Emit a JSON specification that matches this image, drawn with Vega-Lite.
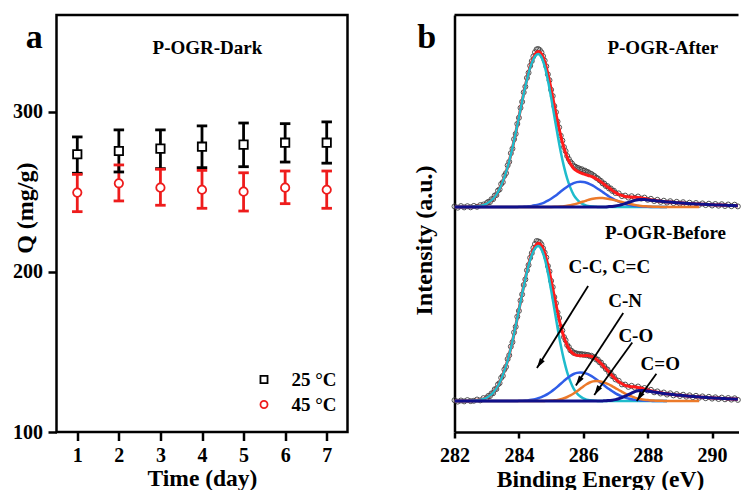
{
"$schema":"https://vega.github.io/schema/vega-lite/v6.json",
"background":"white",
"padding":{"left":10.5,"top":13,"right":0,"bottom":0},
"bounds":"flush",
"spacing":107,
"config":{
 "font":"Liberation Serif",
 "view":{"stroke":null},
 "axis":{"labelFont":"Liberation Serif","labelFontWeight":"bold","labelFontSize":20,"labelColor":"black","titleFont":"Liberation Serif","titleFontWeight":"bold","titleFontSize":24,"titleColor":"black","tickColor":"black","tickWidth":2.5,"domainColor":"black","domainWidth":2.5,"grid":false,"labelFlush":false},
 "text":{"font":"Liberation Serif","fontWeight":"bold","color":"black"}
},
"datasets":{
 "q":[
  {"day":1,"T":"45 °C","Q":249.6,"lo":237.7,"hi":261.0},
  {"day":2,"T":"45 °C","Q":255.4,"lo":244.4,"hi":266.9},
  {"day":3,"T":"45 °C","Q":252.7,"lo":241.7,"hi":264.2},
  {"day":4,"T":"45 °C","Q":251.4,"lo":239.8,"hi":263.5},
  {"day":5,"T":"45 °C","Q":250.2,"lo":238.1,"hi":262.0},
  {"day":6,"T":"45 °C","Q":252.7,"lo":242.7,"hi":263.1},
  {"day":7,"T":"45 °C","Q":251.4,"lo":239.8,"hi":263.1},
  {"day":1,"T":"25 °C","Q":273.6,"lo":261.7,"hi":284.4},
  {"day":2,"T":"25 °C","Q":275.6,"lo":262.5,"hi":288.8},
  {"day":3,"T":"25 °C","Q":277.1,"lo":264.6,"hi":288.8},
  {"day":4,"T":"25 °C","Q":278.3,"lo":265.2,"hi":291.3},
  {"day":5,"T":"25 °C","Q":279.6,"lo":265.8,"hi":293.1},
  {"day":6,"T":"25 °C","Q":280.8,"lo":268.7,"hi":292.7},
  {"day":7,"T":"25 °C","Q":280.8,"lo":268.0,"hi":293.8}
 ],
 "fit":[
  {"s":"A","E":282.0,"fit":225,"cc":225,"cn":225,"co":225,"coo":225},
  {"s":"A","E":282.1,"fit":225,"cc":225,"cn":225,"co":225,"coo":225},
  {"s":"A","E":282.2,"fit":225,"cc":225,"cn":225,"co":225,"coo":225},
  {"s":"A","E":282.3,"fit":225.1,"cc":225.1,"cn":225,"co":225,"coo":225},
  {"s":"A","E":282.4,"fit":225.1,"cc":225.1,"cn":225,"co":225,"coo":225},
  {"s":"A","E":282.5,"fit":225.2,"cc":225.2,"cn":225,"co":225,"coo":225},
  {"s":"A","E":282.6,"fit":225.4,"cc":225.4,"cn":225,"co":225,"coo":225},
  {"s":"A","E":282.7,"fit":225.7,"cc":225.7,"cn":225,"co":225,"coo":225},
  {"s":"A","E":282.8,"fit":226.2,"cc":226.2,"cn":225,"co":225,"coo":225},
  {"s":"A","E":282.9,"fit":227.1,"cc":227.1,"cn":225,"co":225,"coo":225},
  {"s":"A","E":283.0,"fit":228.4,"cc":228.4,"cn":225,"co":225,"coo":225},
  {"s":"A","E":283.1,"fit":230.4,"cc":230.4,"cn":225,"co":225,"coo":225},
  {"s":"A","E":283.2,"fit":233.3,"cc":233.3,"cn":225,"co":225,"coo":225},
  {"s":"A","E":283.3,"fit":237.4,"cc":237.4,"cn":225,"co":225,"coo":225},
  {"s":"A","E":283.4,"fit":243.1,"cc":243.1,"cn":225,"co":225,"coo":225},
  {"s":"A","E":283.5,"fit":250.4,"cc":250.4,"cn":225,"co":225,"coo":225},
  {"s":"A","E":283.6,"fit":259.6,"cc":259.6,"cn":225,"co":225,"coo":225},
  {"s":"A","E":283.7,"fit":270.9,"cc":270.9,"cn":225,"co":225,"coo":225},
  {"s":"A","E":283.8,"fit":284.1,"cc":284.1,"cn":225,"co":225,"coo":225},
  {"s":"A","E":283.9,"fit":298.9,"cc":298.9,"cn":225,"co":225,"coo":225},
  {"s":"A","E":284.0,"fit":314.9,"cc":314.7,"cn":225.2,"co":225,"coo":225},
  {"s":"A","E":284.1,"fit":330.9,"cc":330.6,"cn":225.3,"co":225,"coo":225},
  {"s":"A","E":284.2,"fit":346.1,"cc":345.6,"cn":225.5,"co":225,"coo":225},
  {"s":"A","E":284.3,"fit":359.6,"cc":358.9,"cn":225.7,"co":225,"coo":225},
  {"s":"A","E":284.4,"fit":370.2,"cc":369.1,"cn":226.1,"co":225,"coo":225},
  {"s":"A","E":284.5,"fit":377.4,"cc":375.7,"cn":226.7,"co":225,"coo":225},
  {"s":"A","E":284.6,"fit":380.4,"cc":378.0,"cn":227.4,"co":225,"coo":225},
  {"s":"A","E":284.7,"fit":378.2,"cc":374.8,"cn":228.4,"co":225,"coo":225},
  {"s":"A","E":284.8,"fit":370.5,"cc":365.8,"cn":229.7,"co":225,"coo":225},
  {"s":"A","E":284.9,"fit":358.1,"cc":351.8,"cn":231.3,"co":225,"coo":225},
  {"s":"A","E":285.0,"fit":343.0,"cc":334.7,"cn":233.2,"co":225.1,"coo":225},
  {"s":"A","E":285.1,"fit":326.5,"cc":315.9,"cn":235.4,"co":225.2,"coo":225},
  {"s":"A","E":285.2,"fit":310.5,"cc":297.4,"cn":237.8,"co":225.3,"coo":225},
  {"s":"A","E":285.3,"fit":296.0,"cc":280.1,"cn":240.4,"co":225.5,"coo":225},
  {"s":"A","E":285.4,"fit":284.1,"cc":265.4,"cn":242.9,"co":225.8,"coo":225},
  {"s":"A","E":285.5,"fit":274.8,"cc":253.3,"cn":245.3,"co":226.2,"coo":225},
  {"s":"A","E":285.6,"fit":268.2,"cc":244.1,"cn":247.3,"co":226.8,"coo":225},
  {"s":"A","E":285.7,"fit":263.6,"cc":237.2,"cn":248.9,"co":227.5,"coo":225},
  {"s":"A","E":285.8,"fit":261.0,"cc":232.7,"cn":249.9,"co":228.4,"coo":225},
  {"s":"A","E":285.9,"fit":259.3,"cc":229.6,"cn":250.3,"co":229.4,"coo":225},
  {"s":"A","E":286.0,"fit":258.1,"cc":227.6,"cn":250.0,"co":230.5,"coo":225},
  {"s":"A","E":286.1,"fit":257.1,"cc":226.4,"cn":249.2,"co":231.5,"coo":225},
  {"s":"A","E":286.2,"fit":256.1,"cc":225.7,"cn":247.9,"co":232.5,"coo":225},
  {"s":"A","E":286.3,"fit":255.0,"cc":225.4,"cn":246.3,"co":233.3,"coo":225},
  {"s":"A","E":286.4,"fit":253.3,"cc":225.2,"cn":244.3,"co":233.8,"coo":225},
  {"s":"A","E":286.5,"fit":251.2,"cc":225,"cn":242.2,"co":234.0,"coo":225},
  {"s":"A","E":286.6,"fit":248.9,"cc":225,"cn":239.9,"co":233.9,"coo":225.1},
  {"s":"A","E":286.7,"fit":246.4,"cc":225,"cn":237.7,"co":233.6,"coo":225.1},
  {"s":"A","E":286.8,"fit":244.0,"cc":225,"cn":235.5,"co":233.1,"coo":225.4},
  {"s":"A","E":286.9,"fit":241.6,"cc":225,"cn":233.6,"co":232.4,"coo":225.6},
  {"s":"A","E":287.0,"fit":239.4,"cc":225,"cn":231.8,"co":231.6,"coo":226.0},
  {"s":"A","E":287.1,"fit":237.7,"cc":225,"cn":230.3,"co":230.8,"coo":226.6},
  {"s":"A","E":287.2,"fit":236.5,"cc":225,"cn":229.1,"co":230.0,"coo":227.4},
  {"s":"A","E":287.3,"fit":235.5,"cc":225,"cn":228.0,"co":229.1,"coo":228.4},
  {"s":"A","E":287.4,"fit":235.1,"cc":225,"cn":227.2,"co":228.3,"coo":229.6},
  {"s":"A","E":287.5,"fit":234.9,"cc":225,"cn":226.6,"co":227.7,"coo":230.6},
  {"s":"A","E":287.6,"fit":234.8,"cc":225,"cn":226.1,"co":227.1,"coo":231.6},
  {"s":"A","E":287.7,"fit":234.6,"cc":225,"cn":225.8,"co":226.5,"coo":232.3},
  {"s":"A","E":287.8,"fit":234.1,"cc":225,"cn":225.5,"co":226.1,"coo":232.5},
  {"s":"A","E":287.9,"fit":233.5,"cc":225,"cn":225.3,"co":225.8,"coo":232.4},
  {"s":"A","E":288.0,"fit":232.9,"cc":225,"cn":225.2,"co":225.6,"coo":232.1},
  {"s":"A","E":288.1,"fit":232.3,"cc":225,"cn":225.1,"co":225.4,"coo":231.8},
  {"s":"A","E":288.2,"fit":231.7,"cc":225,"cn":225,"co":225.3,"coo":231.4},
  {"s":"A","E":288.3,"fit":231.3,"cc":225,"cn":225,"co":225.2,"coo":231.1},
  {"s":"A","E":288.4,"fit":230.8,"cc":225,"cn":225,"co":225.1,"coo":230.7},
  {"s":"A","E":288.5,"fit":230.4,"cc":225,"cn":225,"co":225,"coo":230.4},
  {"s":"A","E":288.6,"fit":230.1,"cc":225,"cn":225,"co":225,"coo":230.1},
  {"s":"A","E":288.7,"fit":229.9,"co":225,"coo":229.9},
  {"s":"A","E":288.8,"fit":229.6,"co":225,"coo":229.6},
  {"s":"A","E":288.9,"fit":229.3,"co":225,"coo":229.3},
  {"s":"A","E":289.0,"fit":229.1,"co":225,"coo":229.1},
  {"s":"A","E":289.1,"fit":228.9,"co":225,"coo":228.9},
  {"s":"A","E":289.2,"fit":228.6,"co":225,"coo":228.6},
  {"s":"A","E":289.3,"fit":228.4,"co":225,"coo":228.4},
  {"s":"A","E":289.4,"fit":228.2,"co":225,"coo":228.2},
  {"s":"A","E":289.5,"fit":228.1,"co":225,"coo":228.1},
  {"s":"A","E":289.6,"fit":227.9,"co":225,"coo":227.9},
  {"s":"A","E":289.7,"fit":227.7,"coo":227.7},
  {"s":"A","E":289.8,"fit":227.6,"coo":227.6},
  {"s":"A","E":289.9,"fit":227.4,"coo":227.4},
  {"s":"A","E":290.0,"fit":227.2,"coo":227.2},
  {"s":"A","E":290.1,"fit":227.1,"coo":227.1},
  {"s":"A","E":290.2,"fit":227.0,"coo":227.0},
  {"s":"A","E":290.3,"fit":226.9,"coo":226.9},
  {"s":"A","E":290.4,"fit":226.7,"coo":226.7},
  {"s":"A","E":290.5,"fit":226.6,"coo":226.6},
  {"s":"A","E":290.6,"fit":226.5,"coo":226.5},
  {"s":"A","E":290.7,"fit":226.4,"coo":226.4},
  {"s":"A","E":290.8,"fit":226.3,"coo":226.3},
  {"s":"B","E":282.0,"fit":31,"cc":31,"cn":31,"co":31,"coo":31},
  {"s":"B","E":282.1,"fit":31,"cc":31,"cn":31,"co":31,"coo":31},
  {"s":"B","E":282.2,"fit":31,"cc":31,"cn":31,"co":31,"coo":31},
  {"s":"B","E":282.3,"fit":31.1,"cc":31.1,"cn":31,"co":31,"coo":31},
  {"s":"B","E":282.4,"fit":31.1,"cc":31.1,"cn":31,"co":31,"coo":31},
  {"s":"B","E":282.5,"fit":31.2,"cc":31.2,"cn":31,"co":31,"coo":31},
  {"s":"B","E":282.6,"fit":31.4,"cc":31.4,"cn":31,"co":31,"coo":31},
  {"s":"B","E":282.7,"fit":31.7,"cc":31.7,"cn":31,"co":31,"coo":31},
  {"s":"B","E":282.8,"fit":32.3,"cc":32.3,"cn":31,"co":31,"coo":31},
  {"s":"B","E":282.9,"fit":33.1,"cc":33.1,"cn":31,"co":31,"coo":31},
  {"s":"B","E":283.0,"fit":34.4,"cc":34.4,"cn":31,"co":31,"coo":31},
  {"s":"B","E":283.1,"fit":36.4,"cc":36.4,"cn":31,"co":31,"coo":31},
  {"s":"B","E":283.2,"fit":39.4,"cc":39.4,"cn":31,"co":31,"coo":31},
  {"s":"B","E":283.3,"fit":43.6,"cc":43.6,"cn":31,"co":31,"coo":31},
  {"s":"B","E":283.4,"fit":49.3,"cc":49.3,"cn":31,"co":31,"coo":31},
  {"s":"B","E":283.5,"fit":56.7,"cc":56.7,"cn":31,"co":31,"coo":31},
  {"s":"B","E":283.6,"fit":66.0,"cc":66.0,"cn":31,"co":31,"coo":31},
  {"s":"B","E":283.7,"fit":77.5,"cc":77.5,"cn":31,"co":31,"coo":31},
  {"s":"B","E":283.8,"fit":90.8,"cc":90.8,"cn":31,"co":31,"coo":31},
  {"s":"B","E":283.9,"fit":105.9,"cc":105.9,"cn":31,"co":31,"coo":31},
  {"s":"B","E":284.0,"fit":122.0,"cc":121.8,"cn":31.2,"co":31,"coo":31},
  {"s":"B","E":284.1,"fit":138.3,"cc":138.0,"cn":31.3,"co":31,"coo":31},
  {"s":"B","E":284.2,"fit":153.6,"cc":153.1,"cn":31.5,"co":31,"coo":31},
  {"s":"B","E":284.3,"fit":167.4,"cc":166.6,"cn":31.8,"co":31,"coo":31},
  {"s":"B","E":284.4,"fit":178.3,"cc":177.0,"cn":32.3,"co":31,"coo":31},
  {"s":"B","E":284.5,"fit":185.6,"cc":183.7,"cn":32.9,"co":31,"coo":31},
  {"s":"B","E":284.6,"fit":188.7,"cc":186.0,"cn":33.7,"co":31,"coo":31},
  {"s":"B","E":284.7,"fit":186.5,"cc":182.7,"cn":34.8,"co":31,"coo":31},
  {"s":"B","E":284.8,"fit":179.0,"cc":173.6,"cn":36.3,"co":31.1,"coo":31},
  {"s":"B","E":284.9,"fit":166.8,"cc":159.5,"cn":38.1,"co":31.2,"coo":31},
  {"s":"B","E":285.0,"fit":151.8,"cc":142.1,"cn":40.3,"co":31.4,"coo":31},
  {"s":"B","E":285.1,"fit":135.5,"cc":123.1,"cn":42.7,"co":31.7,"coo":31},
  {"s":"B","E":285.2,"fit":119.8,"cc":104.3,"cn":45.4,"co":32.1,"coo":31},
  {"s":"B","E":285.3,"fit":105.9,"cc":86.8,"cn":48.3,"co":32.8,"coo":31},
  {"s":"B","E":285.4,"fit":94.7,"cc":71.9,"cn":51.1,"co":33.7,"coo":31},
  {"s":"B","E":285.5,"fit":86.5,"cc":59.7,"cn":53.8,"co":35.0,"coo":31},
  {"s":"B","E":285.6,"fit":81.1,"cc":50.4,"cn":56.1,"co":36.6,"coo":31},
  {"s":"B","E":285.7,"fit":77.9,"cc":43.4,"cn":58.0,"co":38.5,"coo":31},
  {"s":"B","E":285.8,"fit":76.6,"cc":38.8,"cn":59.1,"co":40.7,"coo":31},
  {"s":"B","E":285.9,"fit":76.3,"cc":35.7,"cn":59.5,"co":43.1,"coo":31},
  {"s":"B","E":286.0,"fit":76.3,"cc":33.6,"cn":59.2,"co":45.5,"coo":31},
  {"s":"B","E":286.1,"fit":76.4,"cc":32.4,"cn":58.3,"co":47.7,"coo":31},
  {"s":"B","E":286.2,"fit":76.0,"cc":31.7,"cn":56.8,"co":49.5,"coo":31},
  {"s":"B","E":286.3,"fit":75.0,"cc":31.4,"cn":55.0,"co":50.6,"coo":31},
  {"s":"B","E":286.4,"fit":72.9,"cc":31.2,"cn":52.7,"co":51.0,"coo":31},
  {"s":"B","E":286.5,"fit":70.2,"cc":31,"cn":50.3,"co":50.8,"coo":31},
  {"s":"B","E":286.6,"fit":66.9,"cc":31,"cn":47.8,"co":50.0,"coo":31.1},
  {"s":"B","E":286.7,"fit":63.4,"cc":31,"cn":45.3,"co":48.9,"coo":31.2},
  {"s":"B","E":286.8,"fit":59.9,"cc":31,"cn":42.9,"co":47.5,"coo":31.5},
  {"s":"B","E":286.9,"fit":56.2,"cc":31,"cn":40.7,"co":45.7,"coo":31.8},
  {"s":"B","E":287.0,"fit":53.0,"cc":31,"cn":38.7,"co":43.9,"coo":32.4},
  {"s":"B","E":287.1,"fit":50.3,"cc":31,"cn":37.0,"co":42.0,"coo":33.3},
  {"s":"B","E":287.2,"fit":48.2,"cc":31,"cn":35.6,"co":40.2,"coo":34.4},
  {"s":"B","E":287.3,"fit":46.6,"cc":31,"cn":34.4,"co":38.4,"coo":35.8},
  {"s":"B","E":287.4,"fit":45.8,"cc":31,"cn":33.5,"co":36.9,"coo":37.4},
  {"s":"B","E":287.5,"fit":45.3,"cc":31,"cn":32.8,"co":35.6,"coo":38.9},
  {"s":"B","E":287.6,"fit":45.0,"cc":31,"cn":32.3,"co":34.4,"coo":40.3},
  {"s":"B","E":287.7,"fit":44.6,"cc":31,"cn":31.9,"co":33.5,"coo":41.2},
  {"s":"B","E":287.8,"fit":43.9,"cc":31,"cn":31.6,"co":32.8,"coo":41.5},
  {"s":"B","E":287.9,"fit":43.1,"cc":31,"cn":31.4,"co":32.3,"coo":41.4},
  {"s":"B","E":288.0,"fit":42.1,"cc":31,"cn":31.2,"co":31.9,"coo":41.0},
  {"s":"B","E":288.1,"fit":41.3,"cc":31,"cn":31.2,"co":31.6,"coo":40.5},
  {"s":"B","E":288.2,"fit":40.4,"cc":31,"cn":31,"co":31.4,"coo":40.0},
  {"s":"B","E":288.3,"fit":39.7,"cc":31,"cn":31,"co":31.2,"coo":39.5},
  {"s":"B","E":288.4,"fit":39.2,"cc":31,"cn":31,"co":31.2,"coo":39.0},
  {"s":"B","E":288.5,"fit":38.6,"cc":31,"cn":31,"co":31.1,"coo":38.5},
  {"s":"B","E":288.6,"fit":38.2,"cc":31,"cn":31,"co":31,"coo":38.1},
  {"s":"B","E":288.7,"fit":37.8,"co":31,"coo":37.8},
  {"s":"B","E":288.8,"fit":37.4,"co":31,"coo":37.4},
  {"s":"B","E":288.9,"fit":37.0,"co":31,"coo":37.0},
  {"s":"B","E":289.0,"fit":36.7,"co":31,"coo":36.7},
  {"s":"B","E":289.1,"fit":36.4,"co":31,"coo":36.4},
  {"s":"B","E":289.2,"fit":36.1,"co":31,"coo":36.1},
  {"s":"B","E":289.3,"fit":35.8,"co":31,"coo":35.8},
  {"s":"B","E":289.4,"fit":35.5,"co":31,"coo":35.5},
  {"s":"B","E":289.5,"fit":35.3,"co":31,"coo":35.3},
  {"s":"B","E":289.6,"fit":35.0,"co":31,"coo":35.0},
  {"s":"B","E":289.7,"fit":34.8,"coo":34.8},
  {"s":"B","E":289.8,"fit":34.6,"coo":34.6},
  {"s":"B","E":289.9,"fit":34.3,"coo":34.3},
  {"s":"B","E":290.0,"fit":34.1,"coo":34.1},
  {"s":"B","E":290.1,"fit":33.9,"coo":33.9},
  {"s":"B","E":290.2,"fit":33.8,"coo":33.8},
  {"s":"B","E":290.3,"fit":33.6,"coo":33.6},
  {"s":"B","E":290.4,"fit":33.4,"coo":33.4},
  {"s":"B","E":290.5,"fit":33.2,"coo":33.2},
  {"s":"B","E":290.6,"fit":33.1,"coo":33.1},
  {"s":"B","E":290.7,"fit":32.9,"coo":32.9},
  {"s":"B","E":290.8,"fit":32.8,"coo":32.8}
 ],
 "raw":[
  {"s":"A","E":282.0,"I":225.6},{"s":"A","E":282.1,"I":224.3},{"s":"A","E":282.2,"I":225.9},{"s":"A","E":282.3,"I":224.6},{"s":"A","E":282.4,"I":225.8},{"s":"A","E":282.5,"I":224.7},{"s":"A","E":282.6,"I":226.1},{"s":"A","E":282.7,"I":225.2},{"s":"A","E":282.8,"I":226.9},{"s":"A","E":282.9,"I":227.5},{"s":"A","E":283.0,"I":228.9},
  {"s":"A","E":283.05,"I":230.2},{"s":"A","E":283.1,"I":229.9},{"s":"A","E":283.15,"I":232.8},{"s":"A","E":283.2,"I":232.9},{"s":"A","E":283.25,"I":236.5},{"s":"A","E":283.3,"I":237.0},{"s":"A","E":283.35,"I":241.4},{"s":"A","E":283.4,"I":242.6},{"s":"A","E":283.45,"I":248.0},{"s":"A","E":283.5,"I":249.8},
  {"s":"A","E":283.55,"I":256.3},{"s":"A","E":283.6,"I":258.9},{"s":"A","E":283.65,"I":266.6},{"s":"A","E":283.7,"I":270.2},{"s":"A","E":283.75,"I":278.8},{"s":"A","E":283.8,"I":283.3},{"s":"A","E":283.85,"I":292.8},{"s":"A","E":283.9,"I":298.1},{"s":"A","E":283.95,"I":308.1},{"s":"A","E":284.0,"I":314.2},
  {"s":"A","E":284.05,"I":324.1},{"s":"A","E":284.1,"I":330.2},{"s":"A","E":284.15,"I":339.7},{"s":"A","E":284.2,"I":345.3},{"s":"A","E":284.25,"I":354.1},{"s":"A","E":284.3,"I":359.2},{"s":"A","E":284.35,"I":366.2},{"s":"A","E":284.4,"I":370.9},{"s":"A","E":284.45,"I":375.6},{"s":"A","E":284.5,"I":379.8},
  {"s":"A","E":284.55,"I":382.6},{"s":"A","E":284.6,"I":383.0},{"s":"A","E":284.65,"I":381.9},{"s":"A","E":284.7,"I":379.6},{"s":"A","E":284.75,"I":375.8},{"s":"A","E":284.8,"I":371.4},{"s":"A","E":284.85,"I":365.7},{"s":"A","E":284.9,"I":357.6},{"s":"A","E":284.95,"I":351.8},{"s":"A","E":285.0,"I":342.2},
  {"s":"A","E":285.05,"I":336.0},{"s":"A","E":285.1,"I":325.9},{"s":"A","E":285.15,"I":319.8},{"s":"A","E":285.2,"I":310.4},{"s":"A","E":285.25,"I":304.6},{"s":"A","E":285.3,"I":296.3},{"s":"A","E":285.35,"I":291.4},{"s":"A","E":285.4,"I":284.9},{"s":"A","E":285.45,"I":280.9},{"s":"A","E":285.5,"I":276.0},
  {"s":"A","E":285.55,"I":273.0},{"s":"A","E":285.6,"I":270.1},{"s":"A","E":285.65,"I":268.4},{"s":"A","E":285.7,"I":266.0},{"s":"A","E":285.75,"I":265.4},{"s":"A","E":285.8,"I":264.3},{"s":"A","E":285.85,"I":263.9},{"s":"A","E":285.9,"I":262.6},{"s":"A","E":285.95,"I":262.8},{"s":"A","E":286.0,"I":261.3},
  {"s":"A","E":286.05,"I":261.4},{"s":"A","E":286.1,"I":260.2},{"s":"A","E":286.15,"I":259.8},{"s":"A","E":286.2,"I":258.6},{"s":"A","E":286.25,"I":258.1},{"s":"A","E":286.3,"I":256.8},{"s":"A","E":286.35,"I":255.9},{"s":"A","E":286.4,"I":254.2},{"s":"A","E":286.45,"I":253.6},{"s":"A","E":286.5,"I":251.8},
  {"s":"A","E":286.55,"I":251.0},{"s":"A","E":286.6,"I":248.6},{"s":"A","E":286.65,"I":248.5},{"s":"A","E":286.7,"I":246.0},{"s":"A","E":286.75,"I":246.0},{"s":"A","E":286.8,"I":243.5},{"s":"A","E":286.85,"I":243.6},{"s":"A","E":286.9,"I":241.1},{"s":"A","E":286.95,"I":241.3},{"s":"A","E":287.0,"I":239.0},
  {"s":"A","E":287.1,"I":238.6},{"s":"A","E":287.2,"I":235.9},{"s":"A","E":287.3,"I":236.4},{"s":"A","E":287.4,"I":234.4},{"s":"A","E":287.5,"I":235.8},{"s":"A","E":287.6,"I":234.1},{"s":"A","E":287.7,"I":235.5},{"s":"A","E":287.8,"I":233.4},{"s":"A","E":287.9,"I":234.4},{"s":"A","E":288.0,"I":232.2},
  {"s":"A","E":288.1,"I":233.2},{"s":"A","E":288.2,"I":231.0},{"s":"A","E":288.3,"I":232.2},{"s":"A","E":288.4,"I":230.1},{"s":"A","E":288.5,"I":231.3},{"s":"A","E":288.6,"I":229.4},{"s":"A","E":288.7,"I":230.8},{"s":"A","E":288.8,"I":228.9},{"s":"A","E":288.9,"I":230.2},{"s":"A","E":289.0,"I":228.4},
  {"s":"A","E":289.1,"I":229.8},{"s":"A","E":289.2,"I":227.9},{"s":"A","E":289.3,"I":229.3},{"s":"A","E":289.4,"I":227.5},{"s":"A","E":289.5,"I":229.0},{"s":"A","E":289.6,"I":227.2},{"s":"A","E":289.7,"I":228.6},{"s":"A","E":289.8,"I":226.9},{"s":"A","E":289.9,"I":228.3},{"s":"A","E":290.0,"I":226.5},
  {"s":"A","E":290.1,"I":228.0},{"s":"A","E":290.2,"I":226.3},{"s":"A","E":290.3,"I":227.8},{"s":"A","E":290.4,"I":226.0},{"s":"A","E":290.5,"I":227.5},{"s":"A","E":290.6,"I":225.8},{"s":"A","E":290.7,"I":227.3},{"s":"A","E":290.8,"I":225.6},
  {"s":"B","E":282.0,"I":31.8},{"s":"B","E":282.1,"I":30.4},{"s":"B","E":282.2,"I":31.5},{"s":"B","E":282.3,"I":30.6},{"s":"B","E":282.4,"I":31.9},{"s":"B","E":282.5,"I":30.9},{"s":"B","E":282.6,"I":31.2},{"s":"B","E":282.7,"I":32.5},{"s":"B","E":282.8,"I":31.6},{"s":"B","E":282.9,"I":33.9},{"s":"B","E":283.0,"I":34.0},
  {"s":"B","E":283.05,"I":36.1},{"s":"B","E":283.1,"I":35.9},{"s":"B","E":283.15,"I":38.6},{"s":"B","E":283.2,"I":38.8},{"s":"B","E":283.25,"I":42.7},{"s":"B","E":283.3,"I":43.0},{"s":"B","E":283.35,"I":47.6},{"s":"B","E":283.4,"I":48.9},{"s":"B","E":283.45,"I":54.2},{"s":"B","E":283.5,"I":56.1},
  {"s":"B","E":283.55,"I":62.5},{"s":"B","E":283.6,"I":65.2},{"s":"B","E":283.65,"I":72.9},{"s":"B","E":283.7,"I":76.8},{"s":"B","E":283.75,"I":85.4},{"s":"B","E":283.8,"I":89.9},{"s":"B","E":283.85,"I":99.6},{"s":"B","E":283.9,"I":105.2},{"s":"B","E":283.95,"I":115.3},{"s":"B","E":284.0,"I":121.1},
  {"s":"B","E":284.05,"I":131.4},{"s":"B","E":284.1,"I":137.6},{"s":"B","E":284.15,"I":147.0},{"s":"B","E":284.2,"I":152.6},{"s":"B","E":284.25,"I":161.7},{"s":"B","E":284.3,"I":166.9},{"s":"B","E":284.35,"I":174.2},{"s":"B","E":284.4,"I":178.9},{"s":"B","E":284.45,"I":184.0},{"s":"B","E":284.5,"I":188.0},
  {"s":"B","E":284.55,"I":191.0},{"s":"B","E":284.6,"I":190.6},{"s":"B","E":284.65,"I":189.8},{"s":"B","E":284.7,"I":187.6},{"s":"B","E":284.75,"I":183.7},{"s":"B","E":284.8,"I":179.4},{"s":"B","E":284.85,"I":174.5},{"s":"B","E":284.9,"I":166.0},{"s":"B","E":284.95,"I":160.6},{"s":"B","E":285.0,"I":151.1},
  {"s":"B","E":285.05,"I":144.9},{"s":"B","E":285.1,"I":134.9},{"s":"B","E":285.15,"I":128.8},{"s":"B","E":285.2,"I":119.5},{"s":"B","E":285.25,"I":114.0},{"s":"B","E":285.3,"I":105.2},{"s":"B","E":285.35,"I":101.5},{"s":"B","E":285.4,"I":94.9},{"s":"B","E":285.45,"I":91.8},{"s":"B","E":285.5,"I":86.9},
  {"s":"B","E":285.55,"I":85.0},{"s":"B","E":285.6,"I":81.7},{"s":"B","E":285.65,"I":80.8},{"s":"B","E":285.7,"I":79.2},{"s":"B","E":285.75,"I":78.9},{"s":"B","E":285.8,"I":78.4},{"s":"B","E":285.85,"I":78.1},{"s":"B","E":285.9,"I":77.6},{"s":"B","E":285.95,"I":78.0},{"s":"B","E":286.0,"I":77.2},
  {"s":"B","E":286.05,"I":77.5},{"s":"B","E":286.1,"I":76.8},{"s":"B","E":286.15,"I":77.0},{"s":"B","E":286.2,"I":75.8},{"s":"B","E":286.25,"I":76.3},{"s":"B","E":286.3,"I":74.6},{"s":"B","E":286.35,"I":74.9},{"s":"B","E":286.4,"I":72.5},{"s":"B","E":286.45,"I":72.4},{"s":"B","E":286.5,"I":69.8},
  {"s":"B","E":286.55,"I":69.5},{"s":"B","E":286.6,"I":66.4},{"s":"B","E":286.65,"I":66.0},{"s":"B","E":286.7,"I":63.0},{"s":"B","E":286.75,"I":62.5},{"s":"B","E":286.8,"I":59.4},{"s":"B","E":286.85,"I":58.9},{"s":"B","E":286.9,"I":55.8},{"s":"B","E":286.95,"I":55.5},{"s":"B","E":287.0,"I":52.6},
  {"s":"B","E":287.1,"I":51.2},{"s":"B","E":287.2,"I":47.6},{"s":"B","E":287.3,"I":47.4},{"s":"B","E":287.4,"I":45.1},{"s":"B","E":287.5,"I":46.2},{"s":"B","E":287.6,"I":44.3},{"s":"B","E":287.7,"I":45.5},{"s":"B","E":287.8,"I":43.2},{"s":"B","E":287.9,"I":44.0},{"s":"B","E":288.0,"I":41.5},
  {"s":"B","E":288.1,"I":42.2},{"s":"B","E":288.2,"I":39.7},{"s":"B","E":288.3,"I":40.6},{"s":"B","E":288.4,"I":38.5},{"s":"B","E":288.5,"I":39.5},{"s":"B","E":288.6,"I":37.4},{"s":"B","E":288.7,"I":38.7},{"s":"B","E":288.8,"I":36.6},{"s":"B","E":288.9,"I":37.9},{"s":"B","E":289.0,"I":36.0},
  {"s":"B","E":289.1,"I":37.3},{"s":"B","E":289.2,"I":35.3},{"s":"B","E":289.3,"I":36.7},{"s":"B","E":289.4,"I":34.8},{"s":"B","E":289.5,"I":36.2},{"s":"B","E":289.6,"I":34.3},{"s":"B","E":289.7,"I":35.6},{"s":"B","E":289.8,"I":33.8},{"s":"B","E":289.9,"I":35.2},{"s":"B","E":290.0,"I":33.4},
  {"s":"B","E":290.1,"I":34.7},{"s":"B","E":290.2,"I":33.0},{"s":"B","E":290.3,"I":34.4},{"s":"B","E":290.4,"I":32.7},{"s":"B","E":290.5,"I":34.0},{"s":"B","E":290.6,"I":32.4},{"s":"B","E":290.7,"I":33.7},{"s":"B","E":290.8,"I":32.1}
 ],
 "arrows":[
  {"t":"C-C, C=C","x1":286.15,"y1":146,"x2":284.56,"y2":64},
  {"t":"C-N","x1":287.24,"y1":119,"x2":285.77,"y2":46.5},
  {"t":"C-O","x1":287.52,"y1":89.5,"x2":286.34,"y2":37},
  {"t":"C=O","x1":288.27,"y1":58.3,"x2":287.66,"y2":31}
 ],
 "labelsB":[
  {"t":"P-OGR-After","x":288.47,"y":378.3},
  {"t":"P-OGR-Before","x":288.55,"y":192.7},
  {"t":"C-C, C=C","x":286.81,"y":159.3},
  {"t":"C-N","x":287.30,"y":125},
  {"t":"C-O","x":287.63,"y":90.3},
  {"t":"C=O","x":288.39,"y":61.7}
 ],
 "frameTop":[{"x":282,"x2":290.82,"y":417}]
},
"hconcat":[
 {
  "width":291,"height":417,
  "view":{"stroke":"black","strokeWidth":2.5},
  "layer":[
   {"data":{"name":"q"},"mark":{"type":"rule","strokeWidth":2.8,"opacity":1},
    "encoding":{
     "x":{"field":"day","type":"quantitative","title":"Time (day)","scale":{"domain":[0.5,7.5]},"axis":{"values":[1,2,3,4,5,6,7],"domain":false,"tickSize":8.5,"labelBaseline":"alphabetic","labelPadding":20.5,"titleBaseline":"alphabetic","titleY":53,"titleFontSize":23.5}},
     "y":{"field":"lo","type":"quantitative","title":"Q (mg/g)","scale":{"domain":[100,360.6]},"axis":{"values":[100,200,300],"domain":false,"tickSize":8.5,"labelPadding":5.5,"titleX":-24.5,"titleY":192.7,"titleBaseline":"alphabetic"}},
     "y2":{"field":"hi"},
     "stroke":{"field":"T","type":"nominal","scale":{"domain":["25 °C","45 °C"],"range":["black","#ee1c1c"]}}
    }},
   {"data":{"name":"q"},"mark":{"type":"point","shape":"stroke","size":110,"strokeWidth":2.8,"opacity":1},
    "encoding":{
     "x":{"field":"day","type":"quantitative","title":"Time (day)","scale":{"domain":[0.5,7.5]}},
     "y":{"field":"lo","type":"quantitative","title":"Q (mg/g)","scale":{"domain":[100,360.6]}},
     "stroke":{"field":"T","type":"nominal","scale":{"domain":["25 °C","45 °C"],"range":["black","#ee1c1c"]}}
    }},
   {"data":{"name":"q"},"mark":{"type":"point","shape":"stroke","size":110,"strokeWidth":2.8,"opacity":1},
    "encoding":{
     "x":{"field":"day","type":"quantitative","title":"Time (day)","scale":{"domain":[0.5,7.5]}},
     "y":{"field":"hi","type":"quantitative","title":"Q (mg/g)","scale":{"domain":[100,360.6]}},
     "stroke":{"field":"T","type":"nominal","scale":{"domain":["25 °C","45 °C"],"range":["black","#ee1c1c"]}}
    }},
   {"data":{"name":"q"},"mark":{"type":"point","filled":true,"fill":"white","strokeWidth":1.8,"size":70,"opacity":1},
    "encoding":{
     "x":{"field":"day","type":"quantitative","title":"Time (day)","scale":{"domain":[0.5,7.5]}},
     "y":{"field":"Q","type":"quantitative","title":"Q (mg/g)","scale":{"domain":[100,360.6]}},
     "shape":{"field":"T","type":"nominal","scale":{"domain":["25 °C","45 °C"],"range":["square","circle"]},
       "legend":{"title":null,"orient":"none","legendX":198,"legendY":355,"padding":0,"labelFont":"Liberation Serif","labelFontSize":19,"labelFontWeight":"bold","labelColor":"black","labelOffset":18,"rowPadding":5,"symbolSize":50,"symbolStrokeWidth":1.8,"symbolFillColor":"white"}},
     "stroke":{"field":"T","type":"nominal","scale":{"domain":["25 °C","45 °C"],"range":["black","#ee1c1c"]},
       "legend":{"title":null,"orient":"none","legendX":198,"legendY":355,"padding":0,"labelFont":"Liberation Serif","labelFontSize":19,"labelFontWeight":"bold","labelColor":"black","labelOffset":18,"rowPadding":5,"symbolSize":50,"symbolStrokeWidth":1.8,"symbolFillColor":"white"}}
    }},
   {"data":{"values":[{"t":"P-OGR-Dark","x":4.13,"y":336.4}]},"mark":{"type":"text","fontSize":19,"fontWeight":"bold","align":"center","baseline":"alphabetic"},
    "encoding":{
     "x":{"field":"x","type":"quantitative","title":"Time (day)","scale":{"domain":[0.5,7.5]}},
     "y":{"field":"y","type":"quantitative","title":"Q (mg/g)","scale":{"domain":[100,360.6]}},
     "text":{"field":"t"}
    }},
   {"data":{"values":[{"t":"a","x":-0.036,"y":339.8}]},"mark":{"type":"text","fontSize":34,"fontWeight":"bold","align":"center","baseline":"alphabetic"},
    "encoding":{
     "x":{"field":"x","type":"quantitative","title":"Time (day)","scale":{"domain":[0.5,7.5]}},
     "y":{"field":"y","type":"quantitative","title":"Q (mg/g)","scale":{"domain":[100,360.6]}},
     "text":{"field":"t"}
    }}
  ]
 },
 {
  "width":284,"height":417,
  "view":{"stroke":null},
  "layer":[
   {"data":{"name":"raw"},"mark":{"type":"point","shape":"circle","filled":false,"stroke":"#404040","strokeWidth":0.9,"size":25,"opacity":1},
    "encoding":{
     "x":{"field":"E","type":"quantitative","title":"Binding Energy (eV)","scale":{"domain":[282,290.82]},"axis":{"values":[282,284,286,288,290],"format":"d","domain":true,"tickSize":6,"labelBaseline":"alphabetic","labelPadding":23.5,"titleBaseline":"alphabetic","titleY":54,"titleX":145.5,"titleFontSize":23.5}},
     "y":{"field":"I","type":"quantitative","title":"Intensity (a.u.)","scale":{"domain":[0,417]},"axis":{"labels":false,"ticks":false,"domain":true,"titleX":-22.7,"titleY":225,"titleBaseline":"alphabetic"}},
     "detail":{"field":"s"}
    }},
   {"data":{"name":"frameTop"},"mark":{"type":"rule","color":"black","strokeWidth":2.5},
    "encoding":{
     "x":{"field":"x","type":"quantitative","title":"Binding Energy (eV)","scale":{"domain":[282,290.82]}},
     "x2":{"field":"x2"},
     "y":{"field":"y","type":"quantitative","title":"Intensity (a.u.)","scale":{"domain":[0,417]}}
    }},
   {"data":{"name":"fit"},"mark":{"type":"line","color":"#ff1a1a","strokeWidth":3,"interpolate":"monotone","clip":true},
    "encoding":{
     "x":{"field":"E","type":"quantitative","title":"Binding Energy (eV)","scale":{"domain":[282,290.82]}},
     "y":{"field":"fit","type":"quantitative","title":"Intensity (a.u.)","scale":{"domain":[0,417]}},
     "detail":{"field":"s"}
    }},
   {"data":{"name":"fit"},"mark":{"type":"line","color":"#1fbccc","strokeWidth":2.5,"interpolate":"monotone","clip":true},
    "encoding":{
     "x":{"field":"E","type":"quantitative","title":"Binding Energy (eV)","scale":{"domain":[282,290.82]}},
     "y":{"field":"cc","type":"quantitative","title":"Intensity (a.u.)","scale":{"domain":[0,417]}},
     "detail":{"field":"s"}
    }},
   {"data":{"name":"fit"},"mark":{"type":"line","color":"#2f5de8","strokeWidth":2.5,"interpolate":"monotone","clip":true},
    "encoding":{
     "x":{"field":"E","type":"quantitative","title":"Binding Energy (eV)","scale":{"domain":[282,290.82]}},
     "y":{"field":"cn","type":"quantitative","title":"Intensity (a.u.)","scale":{"domain":[0,417]}},
     "detail":{"field":"s"}
    }},
   {"data":{"name":"fit"},"mark":{"type":"line","color":"#ec7a2a","strokeWidth":2.5,"interpolate":"monotone","clip":true},
    "encoding":{
     "x":{"field":"E","type":"quantitative","title":"Binding Energy (eV)","scale":{"domain":[282,290.82]}},
     "y":{"field":"co","type":"quantitative","title":"Intensity (a.u.)","scale":{"domain":[0,417]}},
     "detail":{"field":"s"}
    }},
   {"data":{"name":"fit"},"mark":{"type":"line","color":"#10108a","strokeWidth":3,"interpolate":"monotone","clip":true},
    "encoding":{
     "x":{"field":"E","type":"quantitative","title":"Binding Energy (eV)","scale":{"domain":[282,290.82]}},
     "y":{"field":"coo","type":"quantitative","title":"Intensity (a.u.)","scale":{"domain":[0,417]}},
     "detail":{"field":"s"}
    }},
   {"data":{"name":"arrows"},"mark":{"type":"rule","color":"black","strokeWidth":1.8},
    "encoding":{
     "x":{"field":"x1","type":"quantitative","title":"Binding Energy (eV)","scale":{"domain":[282,290.82]}},
     "y":{"field":"y1","type":"quantitative","title":"Intensity (a.u.)","scale":{"domain":[0,417]}},
     "x2":{"field":"x2"},
     "y2":{"field":"y2"}
    }},
   {"data":{"name":"arrows"},"mark":{"type":"point","shape":"M0,0L0.45,1.6L-0.45,1.6Z","filled":true,"color":"black","size":156,"angle":213,"opacity":1},
    "encoding":{
     "x":{"field":"x2","type":"quantitative","title":"Binding Energy (eV)","scale":{"domain":[282,290.82]}},
     "y":{"field":"y2","type":"quantitative","title":"Intensity (a.u.)","scale":{"domain":[0,417]}}
    }},
   {"data":{"name":"labelsB"},"mark":{"type":"text","fontSize":19,"fontWeight":"bold","align":"center","baseline":"alphabetic"},
    "encoding":{
     "x":{"field":"x","type":"quantitative","title":"Binding Energy (eV)","scale":{"domain":[282,290.82]}},
     "y":{"field":"y","type":"quantitative","title":"Intensity (a.u.)","scale":{"domain":[0,417]}},
     "text":{"field":"t"}
    }},
   {"data":{"values":[{"t":"b","x":281.14,"y":383.7}]},"mark":{"type":"text","fontSize":34,"fontWeight":"bold","align":"center","baseline":"alphabetic"},
    "encoding":{
     "x":{"field":"x","type":"quantitative","title":"Binding Energy (eV)","scale":{"domain":[282,290.82]}},
     "y":{"field":"y","type":"quantitative","title":"Intensity (a.u.)","scale":{"domain":[0,417]}},
     "text":{"field":"t"}
    }}
  ]
 }
]
}
